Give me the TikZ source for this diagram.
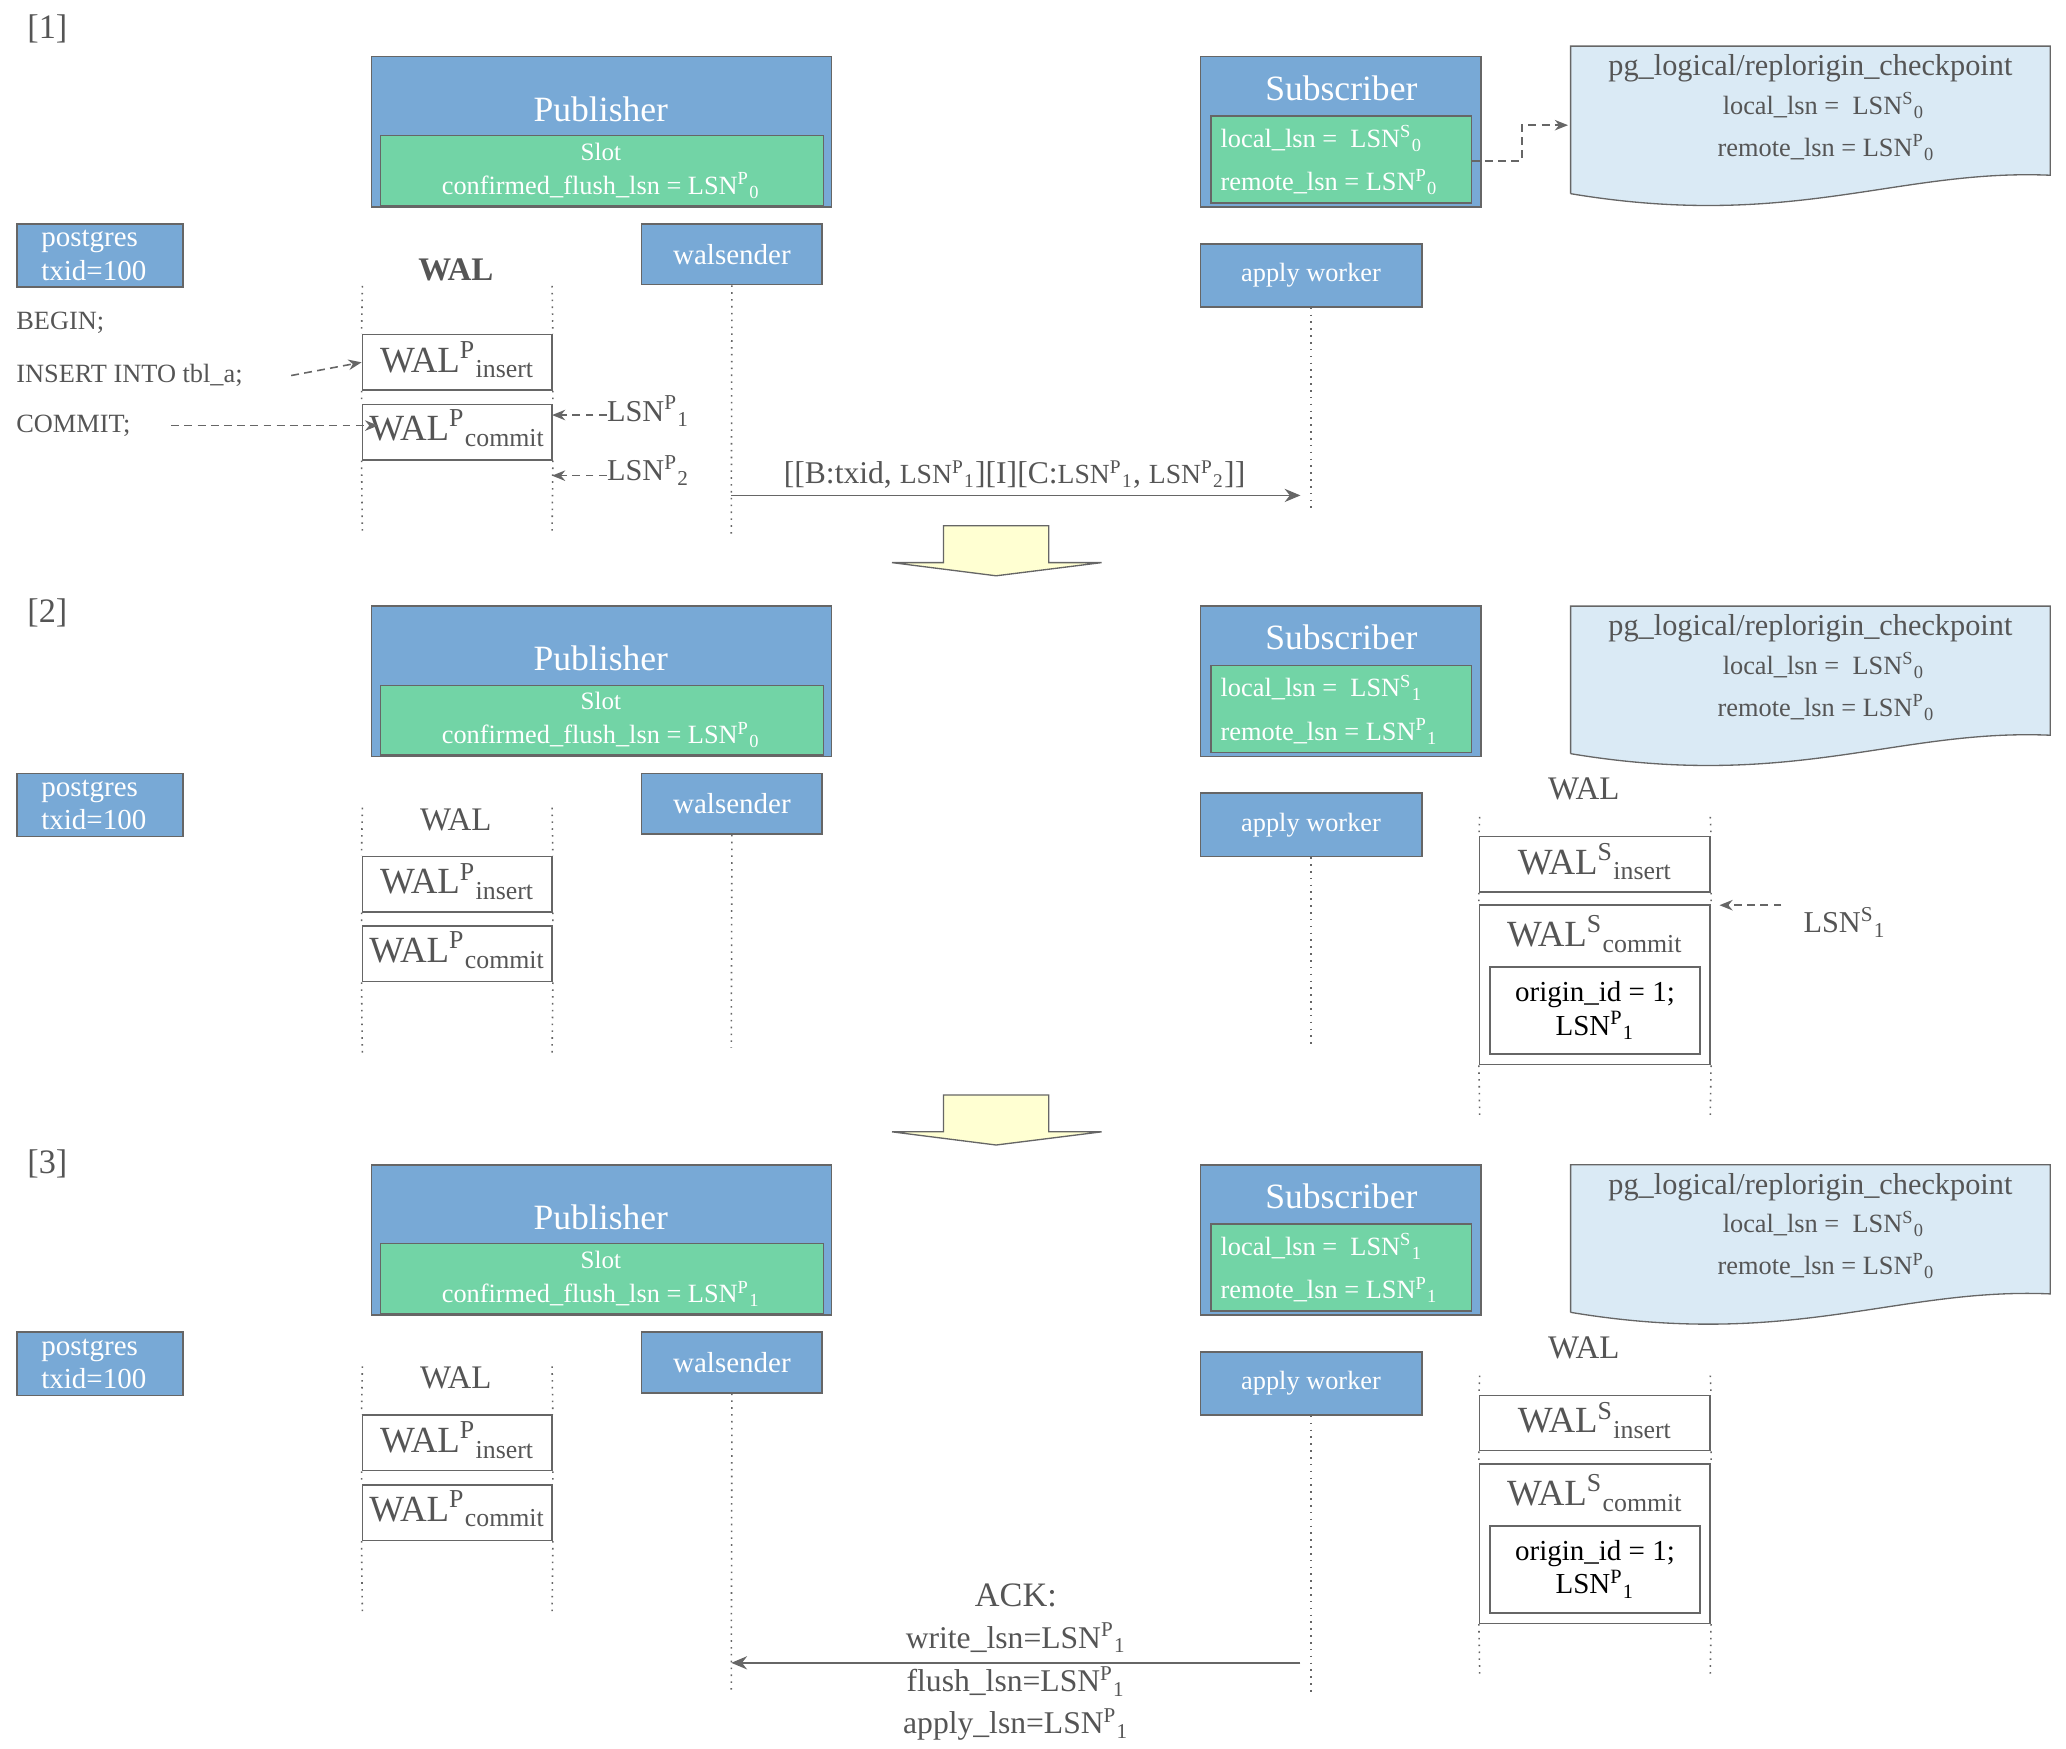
\documentclass[tikz,border=0pt]{standalone}
\usepackage{fontspec}
\setmainfont{Liberation Serif}
\usetikzlibrary{arrows.meta}
\definecolor{bx}{HTML}{78A9D6}
\definecolor{gr}{HTML}{72D4A6}
\definecolor{doc}{HTML}{DAEAF5}
\definecolor{yl}{HTML}{FFFFD2}
\definecolor{tg}{HTML}{555555}
\definecolor{ln}{HTML}{666666}
\newcommand\fs[1]{\fontsize{#1pt}{1.15\dimexpr#1pt\relax}\selectfont}
\newcommand\su[2]{\textsuperscript{#1}\textsubscript{#2}}
\tikzset{
 box/.style={draw=ln,fill=bx,inner sep=0pt,line width=0.6pt},
 grn/.style={draw=ln,fill=gr,inner sep=0pt,line width=0.5pt},
 wb/.style={draw=ln,fill=white,inner sep=0pt,line width=0.6pt},
 wt/.style={text=white,inner sep=0pt},
 tx/.style={text=tg,inner sep=0pt},
 life/.style={draw=ln,dotted,line width=0.6pt},
 dar/.style={draw=ln,densely dashed,line width=0.6pt,-{Stealth[length=5pt,width=4pt]}},
 sar/.style={draw=ln,line width=0.7pt,-{Stealth[length=6pt,width=5pt]}},
 yarr/.style={draw=ln,fill=yl,line width=0.5pt},
}
\newcommand\panel[9]{%
\begin{scope}[shift={(0,#2)}]
\node[tx,font=\fs{13}] (lab#1) at (36,#6) {[#1]};
\node[box,minimum width=174.5pt,minimum height=57pt] (pub#1) at (456.5,100) {};
\node[grn,minimum width=168pt,minimum height=26.5pt] (slot#1) at (457,129.5) {};
\node[wt,font=\fs{13.5}] (pubt#1) at (456,83) {Publisher};
\node[wt,font=\fs{9.5}] (slott#1) at (456,115) {Slot};
\node[wt,font=\fs{10}] (cfl#1) at (456,141) {confirmed\_flush\_lsn = LSN\su{P}{#3}};
\node[box,minimum width=106.5pt,minimum height=57pt] (sub#1) at (1017.5,100) {};
\node[grn,minimum width=99pt,minimum height=33pt] (subg#1) at (1018,121) {};
\node[wt,font=\fs{13.5}] (subt#1) at (1018,67) {Subscriber};
\node[wt,font=\fs{10},anchor=west] (loc#1) at (926,105) {local\_lsn =~ LSN\su{S}{#4}};
\node[wt,font=\fs{10},anchor=west] (rem#1) at (926,138) {remote\_lsn = LSN\su{P}{#5}};
\begin{scope}[shift={(0,#9)}]
\fill[doc] (1192,35) -- (1556,35) -- (1556,133) .. controls (1440,128) and (1360,175) .. (1192,147) -- cycle;
\draw[ln,line width=0.5pt] (1192,147) -- (1192,35) -- (1556,35) -- (1556,133) .. controls (1440,128) and (1360,175) .. (1192,147);
\coordinate (docl#1) at (1190,95);
\node[tx,font=\fs{11.5}] (dt#1) at (1374,52) {pg\_logical/replorigin\_checkpoint};
\node[tx,font=\fs{10}] (dl#1) at (1384,80) {local\_lsn =~ LSN\su{S}{0}};
\node[tx,font=\fs{10}] (dr#1) at (1386,112) {remote\_lsn = LSN\su{P}{0}};
\end{scope}
\node[box,minimum width=63pt,minimum height=24pt] (pg#1) at (76,194) {};
\node[wt,font=\fs{11},anchor=west,align=left] (pgt#1) at (31,194) {postgres\\txid=100};
\node[tx,font=#7\fs{12.5}] (wal#1) at (346,205) {WAL};
\node[box,minimum width=68.5pt,minimum height=23pt,wt,font=\fs{11}] (ws#1) at (555.5,193) {walsender};
\node[box,minimum width=84pt,minimum height=24pt,wt,font=\fs{10}] (aw#1) at (995,209) {apply worker};
\begin{scope}[shift={(0,#8)}]
\node[wb,minimum width=72pt,minimum height=21pt] (wi#1) at (347,283) {};
\node[tx,font=\fs{14}] at (347,281) {WAL\su{P}{insert}};
\node[wb,minimum width=72pt,minimum height=21pt] (wc#1) at (347,336) {};
\node[tx,font=\fs{14}] at (347,333) {WAL\su{P}{commit}};
\coordinate (l1t#1) at (275,225); \coordinate (l1b#1) at (275,413);
\coordinate (l2t#1) at (419,225); \coordinate (l2b#1) at (419,413);
\end{scope}
\draw[life] (l1t#1) -- (wi#1.north west) (wi#1.south west) -- (wc#1.north west) (wc#1.south west) -- (l1b#1);
\draw[life] (l2t#1) -- (wi#1.north east) (wi#1.south east) -- (wc#1.north east) (wc#1.south east) -- (l2b#1);
\end{scope}}
\newcommand\subwal[1]{%
\node[tx,font=\fs{12.5}] (swal#1) at (1202,182) {WAL};
\node[wb,minimum width=87.5pt,minimum height=21pt] (swi#1) at (1210.5,239) {};
\node[tx,font=\fs{14}] at (1210.5,237) {WAL\su{S}{insert}};
\node[wb,minimum width=87.5pt,minimum height=60.5pt] (swc#1) at (1210.5,330.5) {};
\node[tx,font=\fs{14}] at (1210.5,292) {WAL\su{S}{commit}};
\node[wb,minimum width=79.5pt,minimum height=33pt,font=\fs{11},align=center] (ori#1) at (1210.5,350) {origin\_id = 1;\\LSN\su{P}{1}};
\coordinate (s1t#1) at (1123,203); \coordinate (s1b#1) at (1123,430);
\coordinate (s2t#1) at (1298,203); \coordinate (s2b#1) at (1298,430);
\draw[life] (s1t#1) -- (swi#1.north west) (swi#1.south west) -- (swc#1.north west) (swc#1.south west) -- (s1b#1);
\draw[life] (s2t#1) -- (swi#1.north east) (swi#1.south east) -- (swc#1.north east) (swc#1.south east) -- (s2b#1);
}
\begin{document}
\begin{tikzpicture}[x=0.5pt,y=-0.5pt]
\useasboundingbox (0,0) rectangle (1568,1327);
\panel{1}{0}{0}{0}{0}{22}{\bfseries}{-8}{0}
\panel{2}{417}{0}{1}{1}{48}{}{-29}{8}
\panel{3}{841}{1}{1}{1}{42}{}{-29}{8}
% panel 1 extras
\draw[dar] (1117,122) -- (1155,122) -- (1155,95) -- (docl1);
\node[tx,font=\fs{10},anchor=west] (beg) at (12,245) {BEGIN;};
\node[tx,font=\fs{10},anchor=west] (ins) at (12,285) {INSERT INTO tbl\_a;};
\node[tx,font=\fs{10},anchor=west] (com) at (12,323) {COMMIT;};
\draw[dar] (221,285) -- (wi1.west);
\draw[dar] (130,323) -- (287,323);
\node[tx,font=\fs{11.5}] (lp1) at (492,312) {LSN\su{P}{1}};
\node[tx,font=\fs{11.5}] (lp2) at (492,357) {LSN\su{P}{2}};
\draw[dar] (lp1.west) ++(0,3) -- (419,315);
\draw[dar] (lp2.west) ++(0,4) -- (419,361);
\coordinate (m1e) at (987,376);
\draw[life] (ws1.south) -- (555,405);
\draw[life] (aw1.south) -- (995,388);
\draw[sar] (555,376) -- (m1e);
\node[tx,font=\fs{12}] (msg) at (770,360) {[[B:txid, {\fs{10.5}LSN\su{P}{1}}][I][C:{\fs{10.5}LSN\su{P}{1}}, {\fs{10.5}LSN\su{P}{2}}]]};
\draw[yarr] (716,399) -- (796,399) -- (796,427) -- (836,427) -- (756,437) -- (677,427) -- (716,427) -- cycle;
% panel 2 extras
\draw[life] (ws2.south) -- (555,795);
\draw[life] (aw2.south) -- (995,795);
\begin{scope}[shift={(0,417)}]\subwal{2}\end{scope}
\node[tx,font=\fs{11.5}] (ls1) at (1400,700) {LSN\su{S}{1}};
\draw[dar] (1352,687) -- (1305,687);
\draw[yarr] (716,831) -- (796,831) -- (796,859) -- (836,859) -- (756,869) -- (677,859) -- (716,859) -- cycle;
% panel 3 extras
\begin{scope}[shift={(0,841)}]\subwal{3}\end{scope}
\draw[life] (ws3.south) -- (555,1285);
\draw[life] (aw3.south) -- (995,1285);
\coordinate (ackS) at (987,1262);
\draw[sar] (ackS) -- (555,1262);
\node[tx,font=\fs{13}] (ack) at (771,1211) {ACK:};
\node[tx,font=\fs{12}] (wl) at (771,1243) {write\_lsn=LSN\su{P}{1}};
\node[tx,font=\fs{12}] (fl) at (771,1276) {flush\_lsn=LSN\su{P}{1}};
\node[tx,font=\fs{12}] (al) at (771,1309) {apply\_lsn=LSN\su{P}{1}};
\end{tikzpicture}
\end{document}
